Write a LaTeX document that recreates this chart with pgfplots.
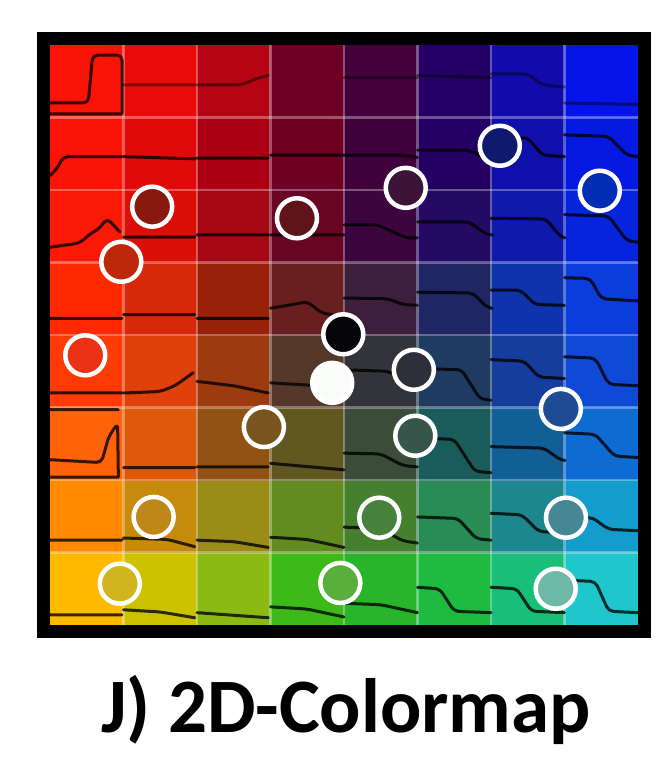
\documentclass[border=0pt]{standalone}
\usepackage{fontspec}
\setmainfont{Carlito}
\usepackage{pgfplots}
\pgfplotsset{compat=1.18}
\usepackage{pgfplotstable}

% cell colours, bottom row first (rgb fractions)
\pgfplotstableread{
x y c
0.5 0.5 rgb=1,0.73,0
1.5 0.5 rgb=0.80,0.76,0
2.5 0.5 rgb=0.55,0.73,0.08
3.5 0.5 rgb=0.24,0.73,0.10
4.5 0.5 rgb=0.16,0.71,0.16
5.5 0.5 rgb=0.12,0.73,0.25
6.5 0.5 rgb=0.10,0.75,0.47
7.5 0.5 rgb=0.12,0.78,0.80
0.5 1.5 rgb=1,0.54,0
1.5 1.5 rgb=0.78,0.54,0.04
2.5 1.5 rgb=0.60,0.55,0.09
3.5 1.5 rgb=0.39,0.55,0.12
4.5 1.5 rgb=0.27,0.50,0.18
5.5 1.5 rgb=0.16,0.55,0.33
6.5 1.5 rgb=0.11,0.53,0.55
7.5 1.5 rgb=0.08,0.61,0.80
0.5 2.5 rgb=1,0.39,0.04
1.5 2.5 rgb=0.87,0.35,0.04
2.5 2.5 rgb=0.57,0.32,0.08
3.5 2.5 rgb=0.38,0.34,0.13
4.5 2.5 rgb=0.23,0.30,0.22
5.5 2.5 rgb=0.10,0.36,0.35
6.5 2.5 rgb=0.07,0.37,0.59
7.5 2.5 rgb=0.05,0.42,0.82
0.5 3.5 rgb=1,0.23,0.02
1.5 3.5 rgb=0.88,0.25,0.04
2.5 3.5 rgb=0.61,0.23,0.06
3.5 3.5 rgb=0.33,0.22,0.16
4.5 3.5 rgb=0.20,0.20,0.23
5.5 3.5 rgb=0.12,0.23,0.38
6.5 3.5 rgb=0.08,0.24,0.62
7.5 3.5 rgb=0.06,0.29,0.84
0.5 4.5 rgb=1,0.16,0
1.5 4.5 rgb=0.84,0.16,0.04
2.5 4.5 rgb=0.60,0.13,0.04
3.5 4.5 rgb=0.41,0.12,0.12
4.5 4.5 rgb=0.24,0.12,0.24
5.5 4.5 rgb=0.12,0.15,0.39
6.5 4.5 rgb=0.06,0.20,0.67
7.5 4.5 rgb=0.04,0.24,0.86
0.5 5.5 rgb=0.98,0.10,0.02
1.5 5.5 rgb=0.86,0.06,0.02
2.5 5.5 rgb=0.65,0.03,0.08
3.5 5.5 rgb=0.41,0.02,0.14
4.5 5.5 rgb=0.24,0.02,0.25
5.5 5.5 rgb=0.14,0.04,0.39
6.5 5.5 rgb=0.06,0.10,0.67
7.5 5.5 rgb=0.02,0.14,0.86
0.5 6.5 rgb=0.98,0.08,0.02
1.5 6.5 rgb=0.88,0.04,0.04
2.5 6.5 rgb=0.67,0,0.08
3.5 6.5 rgb=0.43,0,0.14
4.5 6.5 rgb=0.25,0,0.24
5.5 6.5 rgb=0.14,0,0.39
6.5 6.5 rgb=0.06,0.06,0.67
7.5 6.5 rgb=0.02,0.10,0.88
0.5 7.5 rgb=0.98,0.08,0.02
1.5 7.5 rgb=0.92,0.04,0.04
2.5 7.5 rgb=0.71,0.02,0.08
3.5 7.5 rgb=0.43,0,0.15
4.5 7.5 rgb=0.27,0,0.23
5.5 7.5 rgb=0.14,0,0.40
6.5 7.5 rgb=0.08,0.04,0.67
7.5 7.5 rgb=0.02,0.08,0.91
}\cells

% circle fills
\definecolor{p1}{RGB}{135,25,15}
\definecolor{p2}{RGB}{190,40,10}
\definecolor{p3}{RGB}{95,20,25}
\definecolor{p4}{RGB}{60,20,55}
\definecolor{p5}{RGB}{15,25,110}
\definecolor{p6}{RGB}{0,45,180}
\definecolor{p7}{RGB}{235,50,20}
\definecolor{p8}{RGB}{5,5,10}
\definecolor{p9}{RGB}{250,252,250}
\definecolor{p10}{RGB}{45,48,58}
\definecolor{p11}{RGB}{120,85,30}
\definecolor{p12}{RGB}{55,85,75}
\definecolor{p13}{RGB}{30,75,145}
\definecolor{p14}{RGB}{190,135,25}
\definecolor{p15}{RGB}{70,130,60}
\definecolor{p16}{RGB}{70,135,150}
\definecolor{p17}{RGB}{210,180,30}
\definecolor{p18}{RGB}{90,175,60}
\definecolor{p19}{RGB}{110,185,165}

\begin{document}
\begin{tikzpicture}
\path[use as bounding box] (0,0) rectangle (666bp,768bp);
\begin{axis}[
  at={(43.5bp,136.5bp)}, anchor=south west,
  scale only axis,
  width=601bp, height=593bp,
  xmin=-0.0885, xmax=8.0885,
  ymin=-0.0897, ymax=8.0897,
  hide axis,
  clip=false,
  unbounded coords=jump,
  trace/.style={black, opacity=0.78, line width=3bp, line join=round,
    line cap=round, rounded corners=5bp},
  pt/.style={only marks, mark=*, mark size=20bp, line width=4.5bp,
    mark options={draw=white, fill=#1}},
]
\addplot[matrix plot*, mesh/cols=8, mesh/color input=explicit] table[meta=c] {\cells};

\pgfplotsinvokeforeach{1,2,3,4,5,6,7}{
  \draw[white, opacity=0.32, line width=2.5bp] (axis cs:#1,0) -- (axis cs:#1,8);
  \draw[white, opacity=0.32, line width=2.5bp] (axis cs:0,#1) -- (axis cs:8,#1);
}

% traces, one row of cells per plot, top row first
\addplot[trace] coordinates {
(0,7.2) (0.52,7.2) (0.58,7.86) (0.98,7.86) (0.98,7.05) (nan,nan)
(0,7.05) (0.98,7.05)
};
\addplot[trace, opacity=0.45] coordinates {
(1,7.45) (1.97,7.45) (nan,nan)
(2,7.45) (2.6,7.45) (2.85,7.55) (2.97,7.58) (nan,nan)
(4,7.55) (5,7.55) (nan,nan)
(5,7.58) (6,7.55) (nan,nan)
(6,7.6) (6.5,7.6) (6.7,7.45) (7,7.42) (nan,nan)
(7,7.2) (8,7.18)
};
\addplot[trace] coordinates {
(0,6.2) (0.1,6.3) (0.18,6.46) (0.98,6.46) (nan,nan)
(1,6.46) (1.97,6.43) (nan,nan)
(2,6.44) (2.97,6.44) (nan,nan)
(3,6.48) (4,6.48) (nan,nan)
(4,6.48) (4.8,6.48) (5,6.45) (nan,nan)
(5,6.55) (5.7,6.55) (5.9,6.45) (6,6.44) (nan,nan)
(6,6.72) (6.5,6.72) (6.7,6.48) (7,6.46) (nan,nan)
(7,6.76) (7.6,6.74) (7.85,6.48) (8,6.46)
};
\addplot[trace] coordinates {
(0,5.21) (0.41,5.27) (0.55,5.4) (0.65,5.45) (0.78,5.61) (0.95,5.42) (nan,nan)
(1,5.35) (1.97,5.35) (nan,nan)
(2,5.38) (2.97,5.38) (nan,nan)
(3,5.38) (4,5.38) (nan,nan)
(4,5.52) (4.45,5.52) (4.85,5.34) (5,5.34) (nan,nan)
(5,5.56) (5.7,5.56) (5.95,5.38) (6,5.38) (nan,nan)
(6,5.61) (6.75,5.6) (6.94,5.36) (7,5.34) (nan,nan)
(7,5.66) (7.6,5.64) (7.85,5.3) (8,5.28)
};
\addplot[trace] coordinates {
(0,4.23) (0.98,4.23) (nan,nan)
(1,4.28) (1.97,4.28) (nan,nan)
(2,4.23) (2.97,4.23) (nan,nan)
(3,4.37) (3.3,4.42) (3.5,4.46) (3.7,4.3) (4,4.26) (nan,nan)
(4,4.51) (4.6,4.5) (4.8,4.42) (5,4.41) (nan,nan)
(5,4.59) (5.75,4.58) (5.95,4.38) (6,4.37) (nan,nan)
(6,4.62) (6.4,4.62) (6.6,4.42) (7,4.41) (nan,nan)
(7,4.79) (7.35,4.78) (7.5,4.5) (8,4.47)
};
\addplot[trace] coordinates {
(0,3.2) (0.98,3.2) (nan,nan)
(1,3.2) (1.5,3.22) (1.7,3.3) (1.95,3.48) (nan,nan)
(2,3.36) (2.5,3.3) (2.97,3.2) (nan,nan)
(3,3.34) (4,3.28) (nan,nan)
(4,3.52) (4.6,3.5) (4.85,3.36) (5,3.34) (nan,nan)
(5,3.54) (5.6,3.52) (5.85,3.12) (6,3.1) (nan,nan)
(6,3.66) (6.45,3.64) (6.65,3.42) (7,3.4) (nan,nan)
(7,3.7) (7.42,3.68) (7.6,3.32) (8,3.3)
};
\addplot[trace] coordinates {
(0,2.97) (0.93,2.97) (nan,nan)
(0,2.28) (0.7,2.24) (0.8,2.6) (0.92,2.78) (0.93,2.04) (nan,nan)
(0,2.04) (0.93,2.04) (nan,nan)
(1,2.17) (1.97,2.17) (nan,nan)
(2,2.18) (2.97,2.18) (nan,nan)
(3,2.23) (4,2.14) (nan,nan)
(4,2.37) (4.5,2.36) (4.8,2.2) (5,2.18) (nan,nan)
(5,2.58) (5.5,2.56) (5.78,2.12) (6,2.1) (nan,nan)
(6,2.46) (6.72,2.44) (6.94,2.28) (7,2.27) (nan,nan)
(7,2.65) (7.42,2.63) (7.68,2.33) (8,2.31)
};
\addplot[trace] coordinates {
(0,1.17) (0.98,1.17) (nan,nan)
(1,1.2) (1.6,1.18) (1.97,1.08) (nan,nan)
(2,1.17) (2.5,1.15) (2.97,1.07) (nan,nan)
(3,1.21) (3.5,1.18) (4,1.07) (nan,nan)
(4,1.35) (4.5,1.33) (4.8,1.16) (5,1.13) (nan,nan)
(5,1.49) (5.55,1.47) (5.8,1.19) (6,1.17) (nan,nan)
(6,1.54) (6.42,1.52) (6.65,1.29) (7,1.27) (nan,nan)
(7,1.49) (7.38,1.48) (7.6,1.32) (8,1.3)
};
\addplot[trace] coordinates {
(0,0.14) (0.98,0.14) (nan,nan)
(1,0.21) (1.5,0.18) (1.97,0.1) (nan,nan)
(2,0.17) (2.97,0.1) (nan,nan)
(3,0.25) (3.5,0.22) (4,0.11) (nan,nan)
(4,0.3) (4.5,0.28) (5,0.17) (nan,nan)
(5,0.52) (5.3,0.5) (5.5,0.19) (6,0.17) (nan,nan)
(6,0.52) (6.35,0.5) (6.55,0.19) (7,0.17) (nan,nan)
(7,0.62) (7.42,0.6) (7.6,0.19) (8,0.17)
};

% circles
\addplot[pt=p1] coordinates {(1.39,5.77)};
\addplot[pt=p2] coordinates {(0.97,5.01)};
\addplot[pt=p3] coordinates {(3.36,5.61)};
\addplot[pt=p4] coordinates {(4.84,6.03)};
\addplot[pt=p5] coordinates {(6.12,6.61)};
\addplot[pt=p6] coordinates {(7.48,5.99)};
\addplot[pt=p7] coordinates {(0.48,3.72)};
\addplot[pt=p8] coordinates {(3.99,4.01)};
\addplot[pt=p9] coordinates {(3.84,3.34)};
\addplot[pt=p10] coordinates {(4.95,3.52)};
\addplot[pt=p11] coordinates {(2.91,2.73)};
\addplot[pt=p12] coordinates {(4.97,2.61)};
\addplot[pt=p13] coordinates {(6.95,2.98)};
\addplot[pt=p14] coordinates {(1.41,1.49)};
\addplot[pt=p15] coordinates {(4.48,1.48)};
\addplot[pt=p16] coordinates {(7.02,1.48)};
\addplot[pt=p17] coordinates {(0.95,0.57)};
\addplot[pt=p18] coordinates {(3.95,0.58)};
\addplot[pt=p19] coordinates {(6.88,0.50)};

\draw[line width=13bp] (rel axis cs:0,0) rectangle (rel axis cs:1,1);
\end{axis}
\node[font=\fontsize{77bp}{80bp}\selectfont\bfseries, anchor=base] at (346bp,36bp) {J) 2D-Colormap};
\end{tikzpicture}
\end{document}
